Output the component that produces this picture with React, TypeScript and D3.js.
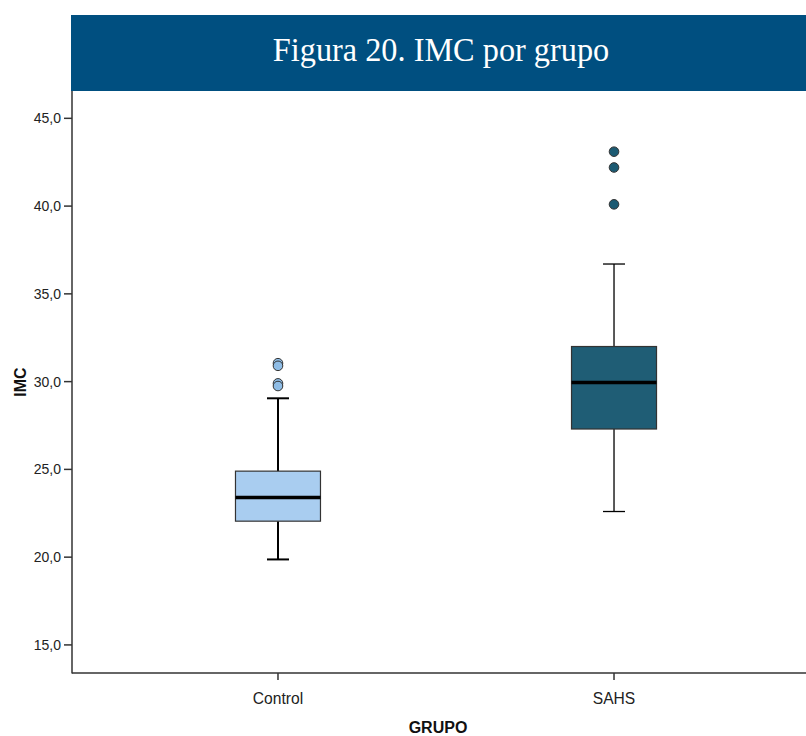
import React from "react";
import * as d3 from "d3";

// groups and box statistics
const groups = ["Control", "SAHS"];
const whiskerLow = [19.87, 22.6];
const q1 = [22.05, 27.3];
const median = [23.4, 29.95];
const q3 = [24.9, 32.0];
const whiskerHigh = [29.05, 36.7];
const outliers = [
    [31.05, 30.9, 29.9, 29.75],
    [43.1, 42.2, 40.1],
];
const yTicks = [15, 20, 25, 30, 35, 40, 45];

const boxFill = ["#a9cdf0", "#1f5d75"];
const dotFill = ["#8fbde6", "#1c5a72"];
const whiskerWidth = [2, 1.3];

const W = 806;
const H = 736;

const locale = d3.formatLocale({ decimal: ",", thousands: ".", grouping: [3], currency: ["", "€"] });
const fmt = locale.format(".1f");

const App = () => {
    // scales
    const y = d3.scaleLinear().domain([13.4, 46.5]).range([673, 92]);
    const x = d3.scalePoint().domain(groups).range([72, 820]).padding(0.613);
    const boxW = 85;
    const capW = 22;
    const axisColor = "#333";
    const font = "'Liberation Sans', Arial, sans-serif";

    return (
        <svg width={W} height={H} style={{ position: "absolute", left: 0, top: 0 }}>
            <rect width={W} height={H} fill="#fff" />
            {/* title banner */}
            <rect x={71} y={15} width={W - 71} height={76} fill="#004f80" />
            <text
                transform="translate(441,61) scale(0.95,1)"
                textAnchor="middle"
                fill="#fff"
                fontFamily="'Liberation Serif', 'Times New Roman', serif"
                fontSize={34}
            >
                Figura 20. IMC por grupo
            </text>

            {/* boxes */}
            {groups.map((g, i) => {
                const cx = x(g) as number;
                return (
                    <g key={g}>
                        <line x1={cx} x2={cx} y1={y(whiskerHigh[i])} y2={y(q3[i])} stroke="#000" strokeWidth={whiskerWidth[i]} />
                        <line x1={cx} x2={cx} y1={y(q1[i])} y2={y(whiskerLow[i])} stroke="#000" strokeWidth={whiskerWidth[i]} />
                        <line x1={cx - capW / 2} x2={cx + capW / 2} y1={y(whiskerHigh[i])} y2={y(whiskerHigh[i])} stroke="#000" strokeWidth={whiskerWidth[i]} />
                        <line x1={cx - capW / 2} x2={cx + capW / 2} y1={y(whiskerLow[i])} y2={y(whiskerLow[i])} stroke="#000" strokeWidth={whiskerWidth[i]} />
                        <rect
                            x={cx - boxW / 2}
                            y={y(q3[i])}
                            width={boxW}
                            height={y(q1[i]) - y(q3[i])}
                            fill={boxFill[i]}
                            stroke="#333"
                            strokeWidth={1.2}
                        />
                        <line x1={cx - boxW / 2} x2={cx + boxW / 2} y1={y(median[i])} y2={y(median[i])} stroke="#000" strokeWidth={3.5} />
                        {outliers[i].map((v, j) => (
                            <circle key={j} cx={cx} cy={y(v)} r={4.8} fill={dotFill[i]} stroke="#333" strokeWidth={1} />
                        ))}
                    </g>
                );
            })}

            {/* y axis */}
            <line x1={72} x2={72} y1={91} y2={673.5} stroke={axisColor} strokeWidth={1.5} />
            {yTicks.map((t) => (
                <g key={t} transform={`translate(0,${y(t)})`}>
                    <line x1={64} x2={72} stroke={axisColor} strokeWidth={1.5} />
                    <text x={61} dy="0.35em" textAnchor="end" fontFamily={font} fontSize={14} fill="#222">
                        {fmt(t)}
                    </text>
                </g>
            ))}
            <text
                transform={`translate(26,382) rotate(-90)`}
                textAnchor="middle"
                fontFamily={font}
                fontWeight="bold"
                fontSize={16}
                fill="#111"
            >
                IMC
            </text>

            {/* x axis */}
            <line x1={72} x2={W} y1={673} y2={673} stroke={axisColor} strokeWidth={1.5} />
            {groups.map((g) => (
                <g key={g} transform={`translate(${x(g)},673)`}>
                    <line y1={0} y2={7} stroke={axisColor} strokeWidth={1.5} />
                    <text transform="translate(0,31) scale(0.92,1)" textAnchor="middle" fontFamily={font} fontSize={17} fill="#222">
                        {g}
                    </text>
                </g>
            ))}
            <text x={438} y={733} textAnchor="middle" fontFamily={font} fontWeight="bold" fontSize={16} fill="#111">
                GRUPO
            </text>
        </svg>
    );
};

export default App;
